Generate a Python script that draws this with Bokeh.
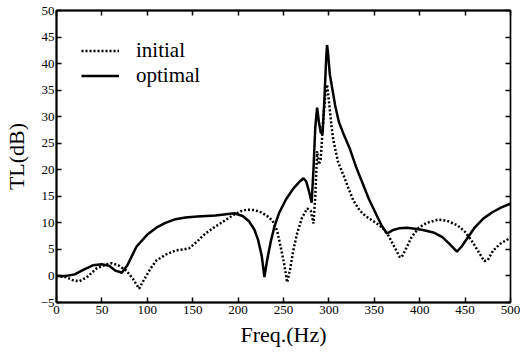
from bokeh.plotting import figure
from bokeh.models import Range1d, LinearAxis, FixedTicker, Legend, LegendItem
from bokeh.embed import file_html
from bokeh.resources import INLINE

x_ticks = [0, 50, 100, 150, 200, 250, 300, 350, 400, 450, 500]
y_ticks = [-5, 0, 5, 10, 15, 20, 25, 30, 35, 40, 45, 50]

opt_f = [0, 10, 20, 30, 40, 50, 58, 65, 72, 78, 88, 100, 110, 120, 131, 142, 155, 175, 196,
         205, 212, 218, 222, 226, 229, 232, 236, 240, 245, 253, 261, 268, 272, 275, 278, 281,
         283, 285, 287, 289, 291, 293, 295, 297, 298, 299, 301, 304, 307, 311, 316, 323, 330,
         337, 344, 351, 358, 364, 370, 378, 386, 395, 405, 415, 425, 433, 441, 446, 452, 460,
         470, 480, 490, 500]
opt_v = [0, 0, 0.3, 1.2, 2.0, 2.2, 1.9, 1.0, 0.6, 2.0, 5.5, 7.8, 9.1, 10.0, 10.7, 11.0, 11.2,
         11.4, 11.8, 11.3, 10.3, 8.7, 6.8, 3.8, -0.2, 3.0, 6.5, 9.3, 11.8, 14.5, 16.5, 17.8,
         18.4, 17.8, 16.0, 13.8, 20, 28, 31.7, 29, 27, 26.8, 33, 41, 43.5, 42, 38, 35, 32, 29,
         26.8, 24, 20.5, 17.5, 14.5, 12, 9.5, 8.0, 8.6, 9.0, 9.1, 8.9, 8.6, 8.2, 7.3, 6.0, 4.6,
         5.5, 7.0, 9.0, 10.8, 12.0, 12.9, 13.6]

ini_f = [0, 10, 18, 25, 33, 44, 55, 61, 68, 77, 84, 91, 97, 104, 110, 120, 131, 140, 146, 155,
         164, 175, 185, 195, 203, 210, 218, 225, 232, 238, 243, 247, 251, 254, 257, 261, 265,
         270, 276, 280, 283, 285, 287, 289, 291, 294, 296, 298, 300, 303, 305, 310, 316, 322,
         327, 334, 341, 350, 359, 366, 372, 378, 380, 384, 391, 399, 408, 420, 430, 442, 450,
         457, 465, 471, 475, 481, 489, 500]
ini_v = [0, -0.2, -0.8, -1.0, -0.3, 1.4, 2.2, 2.4, 2.0, 1.0, -0.5, -2.4, -0.5, 1.5, 2.9, 4.0,
         4.8, 5.0, 5.2, 6.5, 8.0, 9.3, 10.4, 11.5, 12.2, 12.5, 12.4, 12.0, 11.3, 10.4, 8.5, 5.4,
         2.0, -1.2, 1.0, 5.0, 8.0, 10.8, 12.7, 12.3, 9.9, 15, 23.5, 21, 22, 30, 34, 36, 33, 28,
         25.5, 21.5, 19.0, 16.3, 14.2, 12.3, 11.2, 10.2, 9.1, 7.5, 5.5, 3.6, 3.5, 4.8, 7.3, 9.1,
         10.0, 10.6, 10.4, 9.5, 8.3, 6.7, 4.5, 2.8, 3.0, 4.8, 6.1, 7.2]

FONT = "Liberation Serif"

p = figure(width=520, height=353, output_backend="svg", toolbar_location=None,
           x_range=Range1d(0, 500), y_range=Range1d(-5, 50),
           min_border_left=49, min_border_right=10, min_border_top=10, min_border_bottom=51)
p.grid.visible = False
p.background_fill_color = "white"
p.border_fill_color = "white"
p.outline_line_color = "black"
p.outline_line_width = 1.5

for ax in (p.xaxis[0], p.yaxis[0]):
    ax.axis_line_width = 2
    ax.axis_line_color = "black"
    ax.major_tick_in = 5
    ax.major_tick_out = 0
    ax.major_tick_line_width = 1.5
    ax.major_tick_line_color = "black"
    ax.minor_tick_line_color = None
    ax.major_label_text_font = FONT
    ax.major_label_text_font_size = "13px"
    ax.major_label_text_color = "black"
    ax.axis_label_text_font = FONT
    ax.axis_label_text_font_size = "22px"
    ax.axis_label_text_font_style = "normal"
    ax.axis_label_text_color = "black"

p.xaxis[0].ticker = FixedTicker(ticks=x_ticks)
p.yaxis[0].ticker = FixedTicker(ticks=y_ticks)
p.xaxis[0].axis_label = "Freq.(Hz)"
p.yaxis[0].axis_label = "TL(dB)"
p.xaxis[0].major_label_standoff = 3
p.xaxis[0].axis_label_standoff = 5
p.yaxis[0].major_label_standoff = 2
p.yaxis[0].axis_label_standoff = 9

top = LinearAxis(ticker=FixedTicker(ticks=x_ticks),
                 major_label_overrides={t: "" for t in x_ticks},
                 major_tick_in=5, major_tick_out=0, minor_tick_line_color=None,
                 axis_line_width=2, major_tick_line_width=1.5, major_label_standoff=0,
                 axis_line_color="black", major_tick_line_color="black")
right = LinearAxis(ticker=FixedTicker(ticks=y_ticks),
                   major_label_overrides={t: "" for t in y_ticks},
                   major_tick_in=5, major_tick_out=0, minor_tick_line_color=None,
                   axis_line_width=1.2, major_tick_line_width=1.5, major_label_standoff=0,
                   axis_line_color="black", major_tick_line_color="black")
p.add_layout(top, "above")
p.add_layout(right, "right")

r_ini = p.line(ini_f, ini_v, line_color="black", line_width=2.5, line_dash="2 2")
r_opt = p.line(opt_f, opt_v, line_color="black", line_width=2.5)

legend = Legend(items=[LegendItem(label="initial", renderers=[r_ini]),
                       LegendItem(label="optimal", renderers=[r_opt])],
                location=(25, 214), border_line_color=None, background_fill_alpha=0,
                padding=0, margin=0, spacing=0, glyph_width=38, glyph_height=25,
                label_height=25, label_standoff=17, label_text_font=FONT,
                label_text_font_size="21px", label_text_color="black")
p.add_layout(legend)

open("out.html", "w").write(file_html(p, INLINE))
